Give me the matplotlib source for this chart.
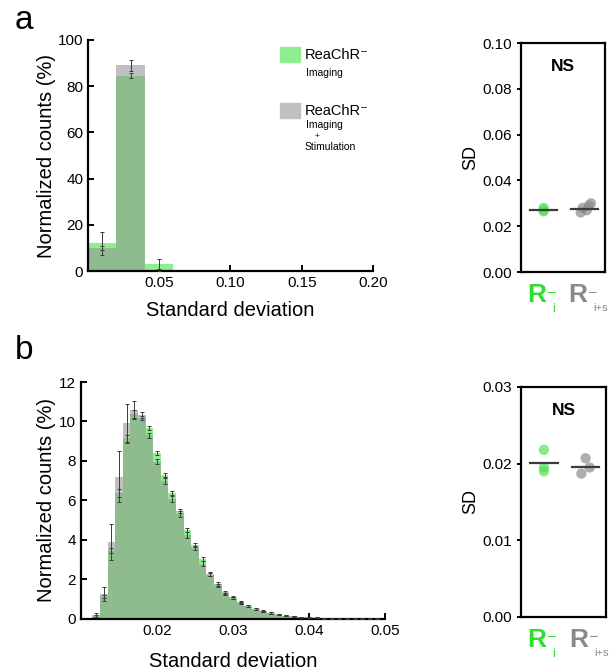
import numpy as np
import matplotlib
matplotlib.use("Agg")
import matplotlib.pyplot as plt
from matplotlib.patches import Rectangle
from matplotlib.transforms import offset_copy

plt.rcParams['font.family'] = ['Liberation Sans', 'DejaVu Sans']

# ---------------- data ----------------
# Panel a histogram (bin centers, %)
a_centers = [0.01, 0.03, 0.05]
a_green = [12.0, 84.5, 3.0]
a_gray = [10.0, 89.0, 0.4]
a_green_err = [5.0, 1.0, 2.0]
a_gray_err = [1.0, 2.5, 0.3]

# Panel b histogram (bin centers, %)
b_centers = [0.012, 0.013, 0.014, 0.015, 0.016, 0.017, 0.018, 0.019, 0.020, 0.021,
             0.022, 0.023, 0.024, 0.025, 0.026, 0.027, 0.028, 0.029, 0.030, 0.031,
             0.032, 0.033, 0.034, 0.035, 0.036, 0.037, 0.038, 0.039, 0.040, 0.041,
             0.042, 0.043, 0.044, 0.045, 0.046, 0.047, 0.048, 0.049]
b_green = [0.15, 1.14, 3.47, 6.4, 9.14, 10.4, 10.2, 9.65, 8.4, 7.3,
           6.36, 5.45, 4.5, 3.75, 3.05, 2.25, 1.7, 1.28, 1.05, 0.82,
           0.65, 0.5, 0.38, 0.3, 0.22, 0.17, 0.12, 0.09, 0.07, 0.06,
           0.045, 0.035, 0.025, 0.02, 0.015, 0.012, 0.01, 0.008]
b_gray = [0.2, 1.26, 3.9, 7.2, 9.9, 10.6, 10.35, 9.3, 7.96, 7.0,
          6.06, 5.3, 4.26, 3.6, 2.8, 2.3, 1.78, 1.36, 1.1, 0.85,
          0.68, 0.52, 0.4, 0.3, 0.23, 0.17, 0.13, 0.1, 0.08, 0.06,
          0.045, 0.035, 0.025, 0.02, 0.015, 0.012, 0.01, 0.008]
b_gray_err = [0.1, 0.35, 0.9, 1.3, 1.0, 0.45, 0.15, 0.12, 0.12, 0.15,
              0.15, 0.15, 0.15, 0.12, 0.12, 0.1, 0.1, 0.08, 0.07, 0.06,
              0.05, 0.05, 0.04, 0.04, 0.03, 0.03, 0.03, 0.02, 0.02, 0.02,
              0.02, 0.02, 0.02, 0.02, 0.02, 0.02, 0.02, 0.02]
b_green_err = [0.05, 0.1, 0.15, 0.2, 0.2, 0.2, 0.1, 0.1, 0.1, 0.1,
               0.1, 0.1, 0.1, 0.1, 0.1, 0.08, 0.08, 0.06, 0.05, 0.05,
               0.04, 0.04, 0.03, 0.03, 0.03, 0.02, 0.02, 0.02, 0.02, 0.02,
               0.02, 0.02, 0.02, 0.02, 0.02, 0.02, 0.02, 0.02]

# SD scatter panels
a_sd_green = [0.0265, 0.027, 0.028]
a_sd_gray = [0.026, 0.027, 0.028, 0.029, 0.030]
a_sd_green_mean = 0.027
a_sd_gray_mean = 0.0275
b_sd_green = [0.0218, 0.0195, 0.019]
b_sd_gray = [0.0207, 0.0195, 0.0187]
b_sd_green_mean = 0.0201
b_sd_gray_mean = 0.0196
jit_a_green = [0.0, 0.0, 0.0]
jit_a_gray = [-0.1, 0.05, -0.05, 0.1, 0.15]
jit_b_green = [0.0, 0.0, 0.0]
jit_b_gray = [0.0, 0.1, -0.1]

GREEN = '#90ee90'
GRAY = '#c0c0c0'
OVER = '#8fbc8f'
ERRC = '#3a3a3a'


def overlap_hist(ax, centers, g, r, ge, re, width):
    g = np.array(g); r = np.array(r)
    lo = np.minimum(g, r)
    hi = np.maximum(g, r)
    topcol = [GREEN if gg >= rr else GRAY for gg, rr in zip(g, r)]
    ax.bar(centers, lo, width=width, color=OVER, edgecolor='none', zorder=2)
    ax.bar(centers, hi - lo, bottom=lo, width=width, color=topcol, edgecolor='none', zorder=2)
    ax.errorbar(centers, r, yerr=re, fmt='none', ecolor=ERRC, elinewidth=0.7,
                capsize=1.5, capthick=0.7, zorder=3)
    ax.errorbar(centers, g, yerr=ge, fmt='none', ecolor=ERRC, elinewidth=0.7,
                capsize=1.5, capthick=0.7, zorder=3)


def style_hist(ax):
    for s in ['top', 'right']:
        ax.spines[s].set_visible(False)
    for s in ['left', 'bottom']:
        ax.spines[s].set_linewidth(1.6)
    ax.tick_params(direction='in', length=4, width=1.4, labelsize=11)


def sd_panel(ax, g, r, gj, rj, gm, rm, ylim, yticks):
    ax.scatter(np.array(gj) + 1, g, s=55, color='#55e055', alpha=0.7,
               edgecolors='none', zorder=2)
    ax.scatter(np.array(rj) + 2, r, s=55, color='#8c8c8c', alpha=0.7,
               edgecolors='none', zorder=2)
    ax.plot([1 - 0.33, 1 + 0.33], [gm, gm], color='#3c3c3c', lw=1.6, zorder=3)
    ax.plot([2 - 0.33, 2 + 0.33], [rm, rm], color='#3c3c3c', lw=1.6, zorder=3)
    ax.set_xlim(0.45, 2.49)
    ax.set_ylim(*ylim)
    ax.set_yticks(yticks)
    ax.set_yticklabels(['%.2f' % t for t in yticks])
    ax.set_xticks([])
    for s in ax.spines.values():
        s.set_linewidth(1.6)
    ax.tick_params(axis='y', direction='out', length=3, width=1.4, labelsize=11)
    ax.set_ylabel('SD', fontsize=13, labelpad=2)
    ax.text(0.5, 0.93, 'NS', transform=ax.transAxes, ha='center', va='top',
            fontsize=12.5, fontweight='bold')
    # category labels
    fig = ax.figure
    for xc, col, sub in [(1, '#2ee02e', 'i'), (2, '#8a8a8a', 'i+s')]:
        base = ax.get_xaxis_transform()
        tR = offset_copy(base, fig=fig, x=2, y=-8, units='points')
        ax.text(xc, 0, 'R', transform=tR, ha='right', va='top', fontsize=19,
                fontweight='bold', color=col, clip_on=False)
        tS = offset_copy(base, fig=fig, x=3, y=-9, units='points')
        ax.text(xc, 0, '\u2013', transform=tS, ha='left', va='top', fontsize=10,
                color=col, clip_on=False)
        tI = offset_copy(base, fig=fig, x=6 if sub == 'i' else 6, y=-22, units='points')
        ax.text(xc, 0, sub, transform=tI, ha='left', va='top',
                fontsize=9 if sub == 'i' else 8, color=col, clip_on=False)


fig = plt.figure(figsize=(6.14, 6.71), dpi=100)

# ---- panel a left ----
ax1 = fig.add_axes([0.1433, 0.5961, 0.4642, 0.3443])
overlap_hist(ax1, a_centers, a_green, a_gray, a_green_err, a_gray_err, 0.02)
ax1.set_xlim(0, 0.2)
ax1.set_ylim(0, 100)
ax1.set_xticks([0.05, 0.10, 0.15, 0.20])
ax1.set_xticklabels(['0.05', '0.10', '0.15', '0.20'])
ax1.set_yticks([0, 20, 40, 60, 80, 100])
style_hist(ax1)
ax1.set_xlabel('Standard deviation', fontsize=14.5, labelpad=8)
ax1.set_ylabel('Normalized counts (%)', fontsize=14.5, labelpad=1)

# legend (manual)
ax1.add_patch(Rectangle((0.674, 0.905), 0.07, 0.065, transform=ax1.transAxes,
                        color=GREEN, clip_on=False))
ax1.add_patch(Rectangle((0.674, 0.662), 0.07, 0.065, transform=ax1.transAxes,
                        color=GRAY, clip_on=False))
ax1.text(0.761, 0.937, 'ReaChR\u207b', transform=ax1.transAxes, fontsize=10.5,
         va='center', ha='left')
ax1.text(0.765, 0.857, 'Imaging', transform=ax1.transAxes, fontsize=7.5,
         va='center', ha='left')
ax1.text(0.761, 0.694, 'ReaChR\u207b', transform=ax1.transAxes, fontsize=10.5,
         va='center', ha='left')
ax1.text(0.765, 0.630, 'Imaging', transform=ax1.transAxes, fontsize=7.5,
         va='center', ha='left')
ax1.text(0.803, 0.583, '+', transform=ax1.transAxes, fontsize=6,
         va='center', ha='center')
ax1.text(0.761, 0.535, 'Stimulation', transform=ax1.transAxes, fontsize=7.5,
         va='center', ha='left')

# ---- panel a right ----
ax2 = fig.add_axes([0.8485, 0.5946, 0.1368, 0.3413])
sd_panel(ax2, a_sd_green, a_sd_gray, jit_a_green, jit_a_gray,
         a_sd_green_mean, a_sd_gray_mean, (0, 0.10), [0, 0.02, 0.04, 0.06, 0.08, 0.10])

# ---- panel b left ----
ax3 = fig.add_axes([0.1319, 0.0775, 0.495, 0.3532])
overlap_hist(ax3, b_centers, b_green, b_gray, b_green_err, b_gray_err, 0.001)
ax3.set_xlim(0.01, 0.05)
ax3.set_ylim(0, 12)
ax3.set_xticks([0.02, 0.03, 0.04, 0.05])
ax3.set_xticklabels(['0.02', '0.03', '0.04', '0.05'])
ax3.set_yticks([0, 2, 4, 6, 8, 10, 12])
style_hist(ax3)
ax3.set_xlabel('Standard deviation', fontsize=14.5, labelpad=10)
ax3.set_ylabel('Normalized counts (%)', fontsize=14.5, labelpad=2)

# ---- panel b right ----
ax4 = fig.add_axes([0.8485, 0.0805, 0.1384, 0.3428])
sd_panel(ax4, b_sd_green, b_sd_gray, jit_b_green, jit_b_gray,
         b_sd_green_mean, b_sd_gray_mean, (0, 0.03), [0, 0.01, 0.02, 0.03])

fig.text(0.039, 0.970, 'a', fontsize=24, ha='center', va='center')
fig.text(0.039, 0.478, 'b', fontsize=24, ha='center', va='center')

fig.savefig('out.png', dpi=100)
